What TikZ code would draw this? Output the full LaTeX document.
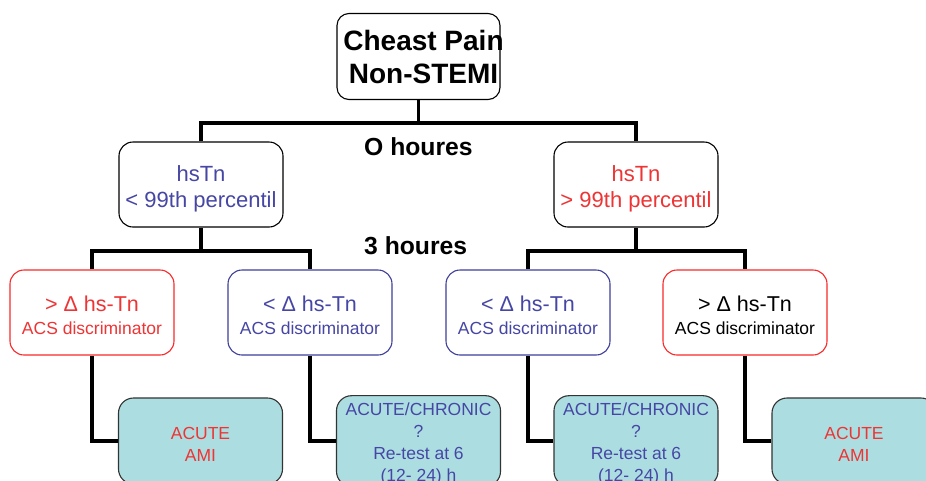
\documentclass[tikz,border=0pt]{standalone}
\usepackage{fontspec}
\setmainfont{Liberation Sans}
\definecolor{redtxt}{RGB}{238,52,52}
\definecolor{redline}{RGB}{250,40,40}
\definecolor{bluetxt}{RGB}{70,70,165}
\definecolor{blueline}{RGB}{62,62,155}
\definecolor{tealfill}{RGB}{172,222,225}
% invisible strut that pads the first line of a box
\newcommand\padtop[1]{\rule{0pt}{#1}}
\begin{document}
\begin{tikzpicture}[x=1pt,y=-1pt,
  box/.style={draw, line width=1.1pt, rounded corners=14pt, align=center,
    minimum width=164pt, minimum height=85pt, inner sep=0pt, fill=white},
  topbox/.style={box, rounded corners=12pt, minimum width=163pt, minimum height=86pt},
  toptext/.style={align=center, inner sep=0pt, font=\bfseries\fontsize{28}{33}\selectfont},
  midbox/.style={box, font=\fontsize{22}{26}\selectfont},
  lowbox/.style={box, font=\fontsize{17.5}{22.5}\selectfont},
  result/.style={box, fill=tealfill, draw=black!80, rounded corners=15pt,
    minimum height=86pt, inner sep=1pt, font=\fontsize{17.5}{22}\selectfont},
  stage/.style={anchor=base west, inner sep=0pt, font=\bfseries\fontsize{24.7}{28}\selectfont},
  conn/.style={line width=3.5pt, line join=miter}]
\useasboundingbox (0,0) rectangle (926,480);
\clip (0,0) rectangle (926,480);

% root
\node[topbox] (top) at (418.5,56.5) {};
\node[toptext] (toplabel) at (423.5,57) {Cheast Pain\\Non-STEMI};

% 0 h branch
\node[midbox, text=bluetxt] (l1) at (201,184.5) {\padtop{24pt}hsTn\\< 99th percentil};
\node[midbox, text=redtxt] (r1) at (636,184.5) {\padtop{24pt}hsTn\\> 99th percentil};

% 3 h branch
\node[lowbox, draw=redline, text=redtxt] (a) at (92,312.5)
  {\padtop{21.5pt}{\fontsize{21.5}{22.5}\selectfont > Δ hs-Tn}\\ACS discriminator};
\node[lowbox, draw=blueline, text=bluetxt] (b) at (310,312.5)
  {\padtop{21.5pt}{\fontsize{21.5}{22.5}\selectfont < Δ hs-Tn}\\ACS discriminator};
\node[lowbox, draw=blueline, text=bluetxt] (c) at (528,312.5)
  {\padtop{21.5pt}{\fontsize{21.5}{22.5}\selectfont < Δ hs-Tn}\\ACS discriminator};
\node[lowbox, draw=redline, text=black] (d) at (745,312.5)
  {\padtop{21.5pt}{\fontsize{21.5}{22.5}\selectfont > Δ hs-Tn}\\ACS discriminator};

% outcomes
\node[result, text=redtxt] (e) at (200.5,441) {\padtop{18pt}ACUTE\\AMI};
\node[result, text=bluetxt] (f) at (418.5,441) {\padtop{19pt}ACUTE/CHRONIC\\?\\Re-test at 6\\(12- 24) h};
\node[result, text=bluetxt] (g) at (636,441) {\padtop{19pt}ACUTE/CHRONIC\\?\\Re-test at 6\\(12- 24) h};
\node[result, text=redtxt] (h) at (854,441) {\padtop{18pt}ACUTE\\AMI};

% time labels
\node[stage] (t0) at (364,155) {O houres};
\node[stage] (t3) at (364,254) {3 houres};

% connectors
\coordinate (j0) at (418.5,123);
\coordinate (j1) at (201,251);
\coordinate (j2) at (636,251);
\draw[conn] (top.south) -- (j0);
\draw[conn] (l1.north) -- (l1.north |- j0) -- (r1.north |- j0) -- (r1.north);
\draw[conn] (l1.south) -- (j1);
\draw[conn] (a.north) -- (a.north |- j1) -- (b.north |- j1) -- (b.north);
\draw[conn] (r1.south) -- (j2);
\draw[conn] (c.north) -- (c.north |- j2) -- (d.north |- j2) -- (d.north);
\draw[conn] (a.south) |- (e.west);
\draw[conn] (b.south) |- (f.west);
\draw[conn] (c.south) |- (g.west);
\draw[conn] (d.south) |- (h.west);
\end{tikzpicture}
\end{document}
